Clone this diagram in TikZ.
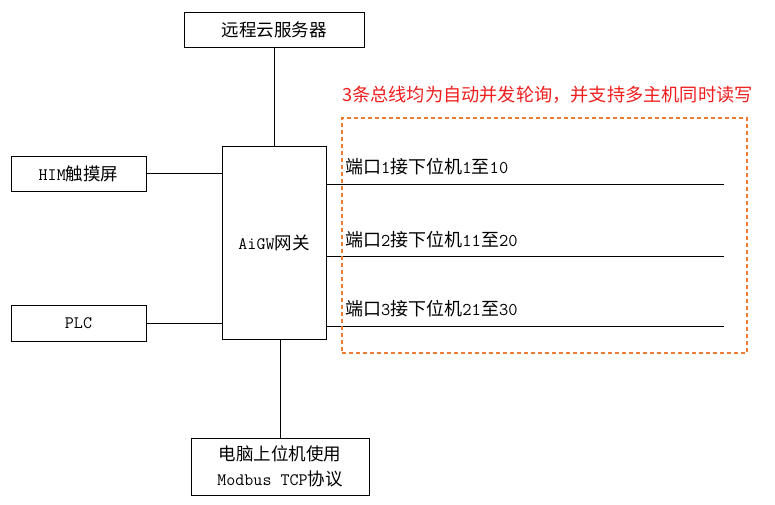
\documentclass[tikz,border=0pt]{standalone}
\usepackage{fontspec}
\newfontfamily\cjk{Noto Sans CJK SC}
\newcommand\zh[1]{{\cjk #1}}
\definecolor{dashorange}{RGB}{237,125,49}
\definecolor{notered}{RGB}{240,30,30}
\begin{document}
\begin{tikzpicture}[x=1pt,y=-1pt,
  box/.style={draw=black,line width=1pt,rectangle,inner sep=0pt,align=center,
    font=\ttfamily\fontsize{17.5}{25}\selectfont},
  wire/.style={draw=black,line width=1pt},
  lbl/.style={anchor=west,inner sep=0pt,font=\ttfamily\fontsize{18}{22}\selectfont}]
\useasboundingbox (0,0) rectangle (775,504);
\fill[white] (0,0) rectangle (775,504);
\node[box,minimum width=180pt,minimum height=35pt] (cloud) at (274,29.5) {\zh{远程云服务器}};
\node[box,minimum width=104pt,minimum height=193pt] (gw) at (274,242.5) {AiGW\zh{网关}};
\node[box,minimum width=135pt,minimum height=35pt] (him) at (78.5,173.5) {HIM\zh{触摸屏}};
\node[box,minimum width=135pt,minimum height=36pt] (plc) at (78.5,323) {PLC};
\node[box,minimum width=178pt,minimum height=57pt] (pc) at (280,466.5) {\zh{电脑上位机使用}\\Modbus TCP\zh{协议}};
\coordinate (e1) at (724,184);
\coordinate (e2) at (724,256);
\coordinate (e3) at (724,326);
\draw[wire] (cloud.south) -- (gw.north);
\draw[wire] (him.east) -- (him.east -| gw.west);
\draw[wire] (plc.east) -- (plc.east -| gw.west);
\draw[wire] (pc.north |- gw.south) -- (pc.north);
\draw[wire] (gw.east |- e1) -- (e1);
\draw[wire] (gw.east |- e2) -- (e2);
\draw[wire] (gw.east |- e3) -- (e3);
\node[lbl] (l1) at (345,167) {\zh{端口}1\zh{接下位机}1\zh{至}10};
\node[lbl] (l2) at (345,240) {\zh{端口}2\zh{接下位机}11\zh{至}20};
\node[lbl] (l3) at (345,309) {\zh{端口}3\zh{接下位机}21\zh{至}30};
\node[draw=dashorange,line width=1.2pt,dash pattern=on 4pt off 3pt,rectangle,
  minimum width=405pt,minimum height=235pt,inner sep=0pt] (dbox) at (544.5,235.5) {};
\node[anchor=west,inner sep=0pt,text=notered,font=\cjk\fontsize{18.2}{22}\selectfont] (note) at (342,95) {3条总线均为自动并发轮询，并支持多主机同时读写};
\end{tikzpicture}
\end{document}
